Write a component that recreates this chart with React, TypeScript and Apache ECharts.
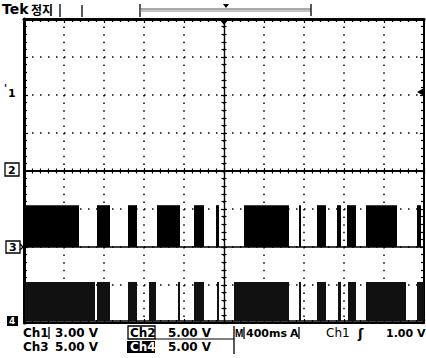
import React, { useEffect, useRef } from "react";
import * as echarts from "echarts";

// time axis: ms relative to trigger (10 div x 400 ms)
const TIME_MIN = -2000;
const TIME_MAX = 2000;
const TIME_DIV = 400;
// vertical axis in divisions
const DIV_MIN = -4;
const DIV_MAX = 4;

// Ch2: flat trace (divisions)
const ch2Level = 0;
// Ch3 digital bursts [start ms, end ms]
const ch3Bursts: [number, number][] = [
  [-1990, -1450], [-1270, -1140], [-960, -870], [-670, -440], [-300, -200],
  [-80, -50], [200, 650], [750, 770], [930, 1020], [1130, 1170],
  [1230, 1320], [1420, 1730], [1930, 1970],
];
const ch3Low = -2;
const ch3High = -0.9;
// Ch4 digital bursts
const ch4Bursts: [number, number][] = [
  [-1990, -1290], [-1270, -1140], [-960, -870], [-750, -680], [-460, -440],
  [-300, -200], [-70, -50], [100, 650], [750, 770], [930, 1020],
  [1140, 1170], [1240, 1320], [1420, 1820], [1930, 2000],
];
const ch4Low = -3.95;
const ch4High = -2.92;

// readout texts
const row1Left = ["Ch1", "3.00 V", "Ch2", "5.00 V"];
const row2Left = ["Ch3", "5.00 V", "Ch4", "5.00 V"];
const row1Right = ["M", "400ms", "A", "Ch1", "\u0283", "1.00 V"];
const titleTexts = ["Tek", "정지"];

const FONT = "DejaVu Sans";

function burstRender(fill: string) {
  return (params: any, api: any) => {
    const p0 = api.coord([api.value(0), api.value(2)]);
    const p1 = api.coord([api.value(1), api.value(3)]);
    return {
      type: "rect",
      shape: {
        x: p0[0],
        y: p1[1],
        width: Math.max(p1[0] - p0[0], 1.5),
        height: p0[1] - p1[1],
      },
      style: { fill },
    };
  };
}

export default function App() {
  const ref = useRef<HTMLDivElement>(null);
  useEffect(() => {
    if (!ref.current) return;
    const chart = echarts.init(ref.current, undefined, { renderer: "svg" });
    const black = "#000";
    const centerX = (pos: "top" | "bottom") => ({
      type: "value",
      min: TIME_MIN,
      max: TIME_MAX,
      interval: TIME_DIV,
      position: pos,
      axisLine: { show: true, onZero: true, onZeroAxisIndex: 0, lineStyle: { color: black, width: 1.2 } },
      axisTick: { show: true, inside: false, length: 3, lineStyle: { color: black, width: 1.2 } },
      minorTick: { show: true, splitNumber: 5, length: 2.5, lineStyle: { color: black, width: 1.2 } },
      axisLabel: { show: false },
      splitLine: { show: false },
    });
    const borderX = (pos: "top" | "bottom", w: number) => ({
      type: "value",
      min: TIME_MIN,
      max: TIME_MAX,
      interval: TIME_DIV,
      position: pos,
      axisLine: { show: true, onZero: false, lineStyle: { color: black, width: w } },
      axisTick: { show: true, inside: true, length: 4, lineStyle: { color: black, width: 1.2 } },
      minorTick: { show: true, splitNumber: 5, length: 3, lineStyle: { color: black, width: 1.2 } },
      axisLabel: { show: false },
      splitLine: { show: false },
    });
    const centerY = (pos: "left" | "right") => ({
      type: "value",
      min: DIV_MIN,
      max: DIV_MAX,
      interval: 1,
      position: pos,
      axisLine: { show: true, onZero: true, onZeroAxisIndex: 0, lineStyle: { color: black, width: 1.2 } },
      axisTick: { show: true, inside: false, length: 3, lineStyle: { color: black, width: 1.2 } },
      minorTick: { show: true, splitNumber: 5, length: 2.5, lineStyle: { color: black, width: 1.2 } },
      axisLabel: { show: false },
      splitLine: { show: false },
    });
    const borderY = (pos: "left" | "right", w: number) => ({
      type: "value",
      min: DIV_MIN,
      max: DIV_MAX,
      interval: 1,
      position: pos,
      axisLine: { show: true, onZero: false, lineStyle: { color: black, width: w } },
      axisTick: { show: true, inside: true, length: 4, lineStyle: { color: black, width: 1.2 } },
      minorTick: { show: true, splitNumber: 5, length: 3, lineStyle: { color: black, width: 1.2 } },
      axisLabel: { show: false },
      splitLine: { show: false },
    });

    const xAxes: any[] = [
      {
        ...centerX("bottom"),
        splitLine: { show: true, lineStyle: { color: black, width: 1.5, type: [1.5, 6.1] } },
      },
      centerX("top"),
      borderX("bottom", 2),
      borderX("top", 3),
    ];
    const yAxes: any[] = [
      {
        ...centerY("left"),
        splitLine: { show: true, lineStyle: { color: black, width: 1.5, type: [1.5, 6.5] } },
      },
      centerY("right"),
      borderY("left", 3),
      borderY("right", 2),
    ];

    const txt = (x: number, y: number, text: string, extra: any = {}) => ({
      type: "text",
      x,
      y,
      style: {
        text,
        fill: "#000",
        font: `bold 12px "${FONT}"`,
        verticalAlign: "middle",
        align: "left",
        ...extra,
      },
    });
    const ln = (x1: number, y1: number, x2: number, y2: number, w = 1.3, color = "#000") => ({
      type: "line",
      shape: { x1, y1, x2, y2 },
      style: { stroke: color, lineWidth: w },
    });

    const graphic: any[] = [
      // title
      txt(2, 9, titleTexts[0], { font: `bold 14px "${FONT}"` }),
      txt(31, 9, titleTexts[1], { font: `bold 12px "Noto Sans CJK KR"` }),
      ln(60, 4, 60, 17),
      ln(82, 5, 82, 17),
      // record bracket
      ln(140, 4, 140, 17),
      ln(140, 9, 311, 9, 1, "#555"),
      ln(140, 11, 311, 11, 1, "#888"),
      ln(311, 4, 311, 16),
      { type: "polygon", shape: { points: [[223, 4], [229, 4], [226, 8]] }, style: { fill: "#000" } },
      // trigger position marker
      { type: "polygon", shape: { points: [[219, 19], [229, 19], [224, 25]] }, style: { fill: "#000" } },
      // trigger level marker on right
      { type: "polygon", shape: { points: [[417, 92], [424, 88], [424, 96]] }, style: { fill: "#000" } },
      // channel markers
      txt(4, 88, "'", { font: `bold 10px "${FONT}"` }),
      txt(8, 93, "1", { font: `bold 11px "${FONT}"` }),
      { type: "rect", shape: { x: 5, y: 163, width: 14, height: 13 }, style: { fill: "none", stroke: "#000", lineWidth: 1.3 } },
      txt(8, 170, "2", { font: `bold 11px "${FONT}"` }),
      { type: "rect", shape: { x: 6, y: 241, width: 14, height: 12 }, style: { fill: "none", stroke: "#000", lineWidth: 1.3 } },
      txt(9, 247, "3", { font: `bold 11px "${FONT}"` }),
      ln(20, 244, 23, 247),
      ln(20, 250, 23, 247),
      { type: "rect", shape: { x: 7, y: 316, width: 11, height: 10 }, style: { fill: "#000" } },
      txt(9, 321, "4", { font: `bold 9px "${FONT}"`, fill: "#fff" }),
      // bottom readout row 1
      txt(23, 333, row1Left[0]),
      ln(49, 327, 49, 339),
      txt(55, 333, row1Left[1]),
      { type: "rect", shape: { x: 128, y: 326, width: 27, height: 13 }, style: { fill: "none", stroke: "#000", lineWidth: 1.3 } },
      txt(130, 333, row1Left[2]),
      txt(168, 333, row1Left[3]),
      ln(155, 339, 234, 339, 1),
      ln(234, 326, 234, 354, 1.3),
      txt(235, 333, row1Right[0], { font: `bold 10px "Liberation Sans"` }),
      ln(244, 327, 244, 339),
      txt(246, 333, row1Right[1], { font: `bold 11px "${FONT}"` }),
      txt(290, 333, row1Right[2], { font: `bold 11px "${FONT}"` }),
      ln(299, 327, 299, 339),
      txt(326, 333, row1Right[3], { font: `12px "${FONT}"` }),
      txt(358, 333, row1Right[4], { font: `bold 13px "${FONT}"` }),
      txt(386, 333, row1Right[5], { font: `bold 11px "${FONT}"` }),
      // row 2
      txt(23, 347, row2Left[0]),
      txt(55, 347, row2Left[1]),
      { type: "rect", shape: { x: 127, y: 341, width: 28, height: 12 }, style: { fill: "#000" } },
      txt(130, 347, row2Left[2], { fill: "#fff" }),
      txt(168, 347, row2Left[3]),
    ];

    chart.setOption({
      animation: false,
      backgroundColor: "#fff",
      grid: { left: 24, right: 2, top: 19, bottom: 35, containLabel: false },
      xAxis: xAxes,
      yAxis: yAxes,
      series: [
        {
          type: "line",
          xAxisIndex: 0,
          yAxisIndex: 0,
          data: [[TIME_MIN, ch2Level], [TIME_MAX, ch2Level]],
          symbol: "none",
          lineStyle: { color: "#000", width: 2 },
          z: 3,
        },
        {
          type: "line",
          xAxisIndex: 0,
          yAxisIndex: 0,
          data: [[TIME_MIN, ch3Low], [TIME_MAX, ch3Low]],
          symbol: "none",
          lineStyle: { color: "#000", width: 1.5 },
        },
        {
          type: "line",
          xAxisIndex: 0,
          yAxisIndex: 0,
          data: [[TIME_MIN, ch4Low], [TIME_MAX, ch4Low]],
          symbol: "none",
          lineStyle: { color: "#000", width: 1.5 },
        },
        {
          type: "custom",
          xAxisIndex: 0,
          yAxisIndex: 0,
          data: ch3Bursts.map(([s, e]) => [s, e, ch3Low, ch3High]),
          encode: { x: [0, 1], y: [2, 3] },
          renderItem: burstRender("#000"),
          z: 4,
        },
        {
          type: "custom",
          xAxisIndex: 0,
          yAxisIndex: 0,
          data: ch4Bursts.map(([s, e]) => [s, e, ch4Low, ch4High]),
          encode: { x: [0, 1], y: [2, 3] },
          renderItem: burstRender("#111"),
          z: 4,
        },
      ],
      graphic,
    });
    return () => chart.dispose();
  }, []);
  return (
    <div
      ref={ref}
      style={{ position: "fixed", left: 0, top: 0, width: 426, height: 358 }}
    />
  );
}
